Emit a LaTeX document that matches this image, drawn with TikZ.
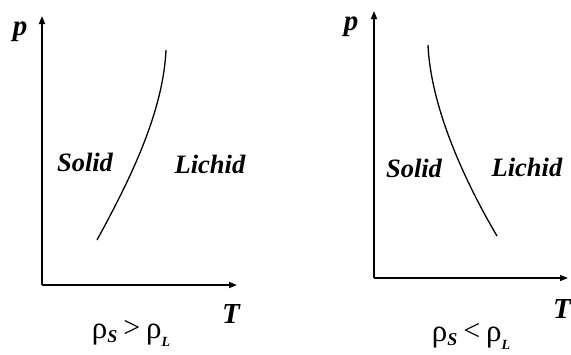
\documentclass[tikz,border=0pt]{standalone}
\usepackage{fontspec}
\setmainfont{Liberation Serif}
\usetikzlibrary{arrows.meta}
\tikzset{
  axis/.style={line width=1.6pt,-{Triangle[length=8pt,width=6pt]}},
  curveline/.style={line width=1.3pt},
  lbl/.style={font=\fontsize{26.5}{29}\selectfont\bfseries\itshape},
  axlbl/.style={font=\fontsize{29}{31}\selectfont\bfseries\itshape},
  rholbl/.style={font=\fontsize{31}{33}\selectfont},
}
\newcommand{\subS}{\raisebox{-4pt}{\fontsize{18}{19}\selectfont\bfseries\itshape S}}
\newcommand{\subL}{\raisebox{-8pt}{\fontsize{14}{15}\selectfont\bfseries\itshape L}}
\newcommand{\relsym}[1]{\hspace{6pt}\raisebox{1pt}{\fontsize{30}{32}\selectfont #1}\hspace{6pt}}
\begin{document}
\begin{tikzpicture}[x=1pt,y=-1pt]
\useasboundingbox (0,0) rectangle (571,354);
% left diagram
\coordinate (o1) at (42,285);
\coordinate (y1) at (42,16);
\coordinate (x1) at (237,285);
\draw[axis] (o1) -- (y1);
\draw[axis] (o1) -- (x1);
\coordinate (c1a) at (97,240);
\coordinate (c1b) at (166,50);
\draw[curveline] (c1a) .. controls (127,185) and (163,115) .. (c1b);
\node[axlbl] (p1) at (20,32) {p};
\node[axlbl] (t1) at (231,314) {T};
\node[lbl] (s1) at (85,162) {Solid};
\node[lbl] (l1) at (210,164) {Lichid};
\node[rholbl] (r1) at (131,333) {ρ\subS\relsym{>}ρ\subL};
% right diagram
\coordinate (o2) at (374,278);
\coordinate (y2) at (374,11);
\coordinate (x2) at (568,278);
\draw[axis] (o2) -- (y2);
\draw[axis] (o2) -- (x2);
\coordinate (c2a) at (428,45);
\coordinate (c2b) at (497,236);
\draw[curveline] (c2a) .. controls (431,110) and (467,185) .. (c2b);
\node[axlbl] (p2) at (351,27) {p};
\node[axlbl] (t2) at (562,309) {T};
\node[lbl] (s2) at (414,168) {Solid};
\node[lbl] (l2) at (527,167) {Lichid};
\node[rholbl] (r2) at (471,336) {ρ\subS\relsym{<}ρ\subL};
\end{tikzpicture}
\end{document}
